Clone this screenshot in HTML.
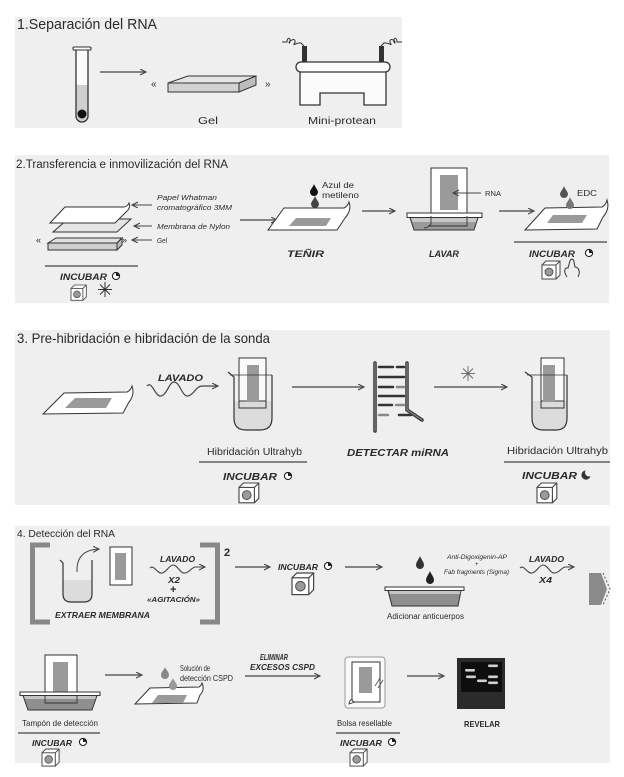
<!DOCTYPE html>
<html><head><meta charset="utf-8"><style>
html,body{margin:0;padding:0;background:#fff;}
svg{display:block;}
text{font-family:"Liberation Sans",sans-serif;fill:#2a2a2a;}
.lab{font-style:italic;font-weight:bold;}
.it{font-style:italic;}
</style></head><body>
<svg width="624" height="777" viewBox="0 0 624 777" xmlns="http://www.w3.org/2000/svg">
<defs>
<marker id="ah" markerWidth="8" markerHeight="8" refX="6" refY="3" orient="auto" markerUnits="userSpaceOnUse"><path d="M0,0 L6,3 L0,6" fill="none" stroke="#444" stroke-width="1.1"/></marker>
<g id="clock"><circle r="3.6" fill="#fff" stroke="#222" stroke-width="1.1"/><path d="M0,0 L0,-3.6 A3.6,3.6 0 0 1 3.6,0 Z" fill="#222"/></g>
<g id="box"><path d="M0,4 L4,0 L18,0 L18,14 L14,18" fill="#fff" stroke="#444" stroke-width="1"/><line x1="14" y1="4" x2="18" y2="0" stroke="#444" stroke-width="1"/><rect x="0" y="4" width="14" height="14" fill="#fff" stroke="#444" stroke-width="1"/><circle cx="7" cy="11" r="4" fill="#9a9a9a" stroke="#444" stroke-width="0.8"/></g>
</defs>

<!-- panels -->
<rect x="15" y="17" width="387" height="111" fill="#efefef"/>
<rect x="15" y="155" width="594" height="148" fill="#efefef"/>
<rect x="15" y="330" width="595" height="175" fill="#efefef"/>
<rect x="15" y="526" width="595" height="237" fill="#efefef"/>

<!-- SECTION 1 -->
<text x="17" y="29" font-size="15" textLength="140" lengthAdjust="spacingAndGlyphs">1.Separación del RNA</text>
<path d="M76,50 L76,85 L88,85 L88,50 Z" fill="#fafafa"/>
<path d="M76,85 L76,116 A6,6 0 0 0 88,116 L88,85 Z" fill="#cfcfcf"/>
<path d="M76,50 L76,116 A6,6 0 0 0 88,116 L88,50" fill="none" stroke="#333" stroke-width="1.3"/>
<rect x="73" y="47" width="18" height="3" rx="1" fill="#fff" stroke="#333" stroke-width="1.1"/>
<circle cx="82" cy="114" r="4.5" fill="#111"/>
<line x1="100" y1="72" x2="146" y2="72" stroke="#444" stroke-width="1.2" marker-end="url(#ah)"/>
<text x="151" y="87" font-size="10">«</text>
<path d="M168,83 L188,76 L256,76 L239,83 Z" fill="#e4e4e4" stroke="#333" stroke-width="1"/>
<rect x="168" y="83" width="71" height="9" fill="#d2d2d2" stroke="#333" stroke-width="1"/>
<path d="M239,83 L256,76 L256,85 L239,92 Z" fill="#bdbdbd" stroke="#333" stroke-width="1"/>
<text x="265" y="87" font-size="10">»</text>
<path d="M282,42 L287,42 C287,37 291,37 290,42 C289,45 288,41 292,40 C295,38 296,42 294,44 C293,46 297,42 301,43 L304,46" fill="none" stroke="#333" stroke-width="1"/>
<path d="M381,46 L384,43 C388,42 392,46 391,44 C389,42 390,38 393,40 C396,41 395,45 394,42 C393,37 397,37 397,42 L402,42" fill="none" stroke="#333" stroke-width="1"/>
<rect x="302" y="46" width="5" height="17" fill="#333"/>
<rect x="379" y="46" width="5" height="17" fill="#333"/>
<path d="M300,72 L300,105 L320,105 L320,93 L364,93 L364,105 L386,105 L386,72" fill="#fbfbfb" stroke="#333" stroke-width="1.3"/>
<rect x="296" y="62" width="94" height="10" rx="5" fill="#fbfbfb" stroke="#333" stroke-width="1.3"/>
<text x="198" y="124" font-size="10.5" textLength="20" lengthAdjust="spacingAndGlyphs">Gel</text>
<text x="308" y="124" font-size="10.5" textLength="68" lengthAdjust="spacingAndGlyphs">Mini-protean</text>

<!-- SECTION 2 -->
<text x="16" y="168" font-size="11.5" textLength="212" lengthAdjust="spacingAndGlyphs">2.Transferencia e inmovilización del RNA</text>
<path d="M53,232 L68,219 L131,219 L117,232 Z" fill="#e6e6e6" stroke="#333" stroke-width="1"/>
<path d="M50,223 L65,207 L124,207 Q128,206 129,203 Q131,208 126,212 L115,223 Z" fill="#fff" stroke="#333" stroke-width="1"/>
<text x="36" y="243" font-size="9">«</text>
<path d="M48,243 L56,238 L122,238 L117,243 Z" fill="#e0e0e0" stroke="#333" stroke-width="1"/>
<rect x="48" y="243" width="69" height="7" fill="#cfcfcf" stroke="#333" stroke-width="1"/>
<path d="M117,243 L122,238 L122,245 L117,250 Z" fill="#bbb" stroke="#333" stroke-width="1"/>
<text x="122" y="243" font-size="9">»</text>
<line x1="152" y1="205" x2="132" y2="205" stroke="#444" stroke-width="1" marker-end="url(#ah)"/>
<line x1="152" y1="226" x2="134" y2="226" stroke="#444" stroke-width="1" marker-end="url(#ah)"/>
<line x1="152" y1="240" x2="132" y2="240" stroke="#444" stroke-width="1" marker-end="url(#ah)"/>
<text class="it" x="157" y="200" font-size="7.5" textLength="60" lengthAdjust="spacingAndGlyphs">Papel Whatman</text>
<text class="it" x="157" y="210" font-size="7.5" textLength="75" lengthAdjust="spacingAndGlyphs">cromatográfico 3MM</text>
<text class="it" x="157" y="229" font-size="7.5" textLength="73" lengthAdjust="spacingAndGlyphs">Membrana de Nylon</text>
<text class="it" x="157" y="243" font-size="7.5" textLength="10" lengthAdjust="spacingAndGlyphs">Gel</text>
<line x1="45" y1="266" x2="138" y2="266" stroke="#444" stroke-width="1.3"/>
<text class="lab" x="60" y="280" font-size="9" textLength="47" lengthAdjust="spacingAndGlyphs">INCUBAR</text>
<use href="#clock" x="116" y="276"/>
<use href="#box" transform="translate(71,285) scale(0.85)"/>
<g stroke="#333" stroke-width="1" fill="none">
<line x1="105" y1="282" x2="105" y2="297"/><line x1="98" y1="289.5" x2="112" y2="289.5"/>
<line x1="100" y1="284.5" x2="110" y2="294.5"/><line x1="110" y1="284.5" x2="100" y2="294.5"/>
</g>
<line x1="240" y1="220" x2="277" y2="220" stroke="#444" stroke-width="1.2" marker-end="url(#ah)"/>
<path d="M268,230 L284,208 L344,208 Q348,206 349,202 Q352,210 345,218 L337,230 Z" fill="#fff" stroke="#333" stroke-width="1"/>
<path d="M289,226 L296,218 L331,218 L326,226 Z" fill="#9a9a9a"/>
<path d="M314,184 C315,187 318,190 318,192 A4,4 0 0 1 310,192 C310,190 313,187 314,184 Z" fill="#111"/>
<path d="M315,196 C316,199 319,202 319,204 A4,4 0 0 1 311,204 C311,202 314,199 315,196 Z" fill="#444"/>
<text x="322" y="188" font-size="8.5" textLength="32" lengthAdjust="spacingAndGlyphs">Azul de</text>
<text x="322" y="198" font-size="8.5" textLength="37" lengthAdjust="spacingAndGlyphs">metileno</text>
<text class="lab" x="287" y="257" font-size="9" textLength="37" lengthAdjust="spacingAndGlyphs">TEÑIR</text>
<line x1="362" y1="211" x2="395" y2="211" stroke="#444" stroke-width="1.2" marker-end="url(#ah)"/>
<rect x="431" y="168" width="36" height="48" fill="#fff" stroke="#333" stroke-width="1"/>
<rect x="440" y="175" width="18" height="35" fill="#9a9a9a"/>
<rect x="407" y="213" width="75" height="4.5" fill="#fff" stroke="#333" stroke-width="1"/>
<path d="M410,217.5 L414,230 L474,230 L478,217.5 Z" fill="#9a9a9a" stroke="#333" stroke-width="1"/>
<path d="M411,218 L412.5,222 L476,222 L477,218 Z" fill="#c8c8c8"/>
<path d="M431,216 L431,224 Q428,228 424,228 M467,216 L467,226 L428,226" fill="none" stroke="#333" stroke-width="0.9"/>
<line x1="481" y1="193" x2="453" y2="193" stroke="#444" stroke-width="1" marker-end="url(#ah)"/>
<text x="485" y="196" font-size="7.5" textLength="16" lengthAdjust="spacingAndGlyphs">RNA</text>
<text class="lab" x="429" y="257" font-size="9" textLength="30" lengthAdjust="spacingAndGlyphs">LAVAR</text>
<line x1="499" y1="211" x2="534" y2="211" stroke="#444" stroke-width="1.2" marker-end="url(#ah)"/>
<path d="M525,230 L545,208 L602,207 Q606,205 607,200 Q610,209 603,217 L597,229 Z" fill="#fff" stroke="#333" stroke-width="1"/>
<path d="M547,223 L553,215 L587,215 L582,223 Z" fill="#9a9a9a"/>
<path d="M564,186 C565,189 568,192 568,194 A4,4 0 0 1 560,194 C560,192 563,189 564,186 Z" fill="#555"/>
<path d="M570,197 C571,200 574,203 574,205 A4,4 0 0 1 566,205 C566,203 569,200 570,197 Z" fill="#777"/>
<text x="577" y="196" font-size="8.5" textLength="20" lengthAdjust="spacingAndGlyphs">EDC</text>
<line x1="514" y1="242" x2="607" y2="242" stroke="#444" stroke-width="1.3"/>
<text class="lab" x="529" y="257" font-size="9" textLength="46" lengthAdjust="spacingAndGlyphs">INCUBAR</text>
<use href="#clock" x="589" y="253"/>
<use href="#box" transform="translate(542,261) scale(1)"/>
<path d="M567,277 C563,271 565,267 568,268 L570,261 C571,258 574,259 574,262 L575,267 C578,267 581,271 578,277" fill="none" stroke="#333" stroke-width="1"/>

<!-- SECTION 3 -->
<text x="17" y="343" font-size="14" textLength="253" lengthAdjust="spacingAndGlyphs">3. Pre-hibridación e hibridación de la sonda</text>
<path d="M43,414 L64,393 L127,392 Q131,390 132,386 Q135,395 129,402 L123,413 Z" fill="#fff" stroke="#333" stroke-width="1"/>
<path d="M65,408 L75,398 L112,398 L106,408 Z" fill="#9a9a9a"/>
<text class="lab" x="158" y="381" font-size="9" textLength="45" lengthAdjust="spacingAndGlyphs">LAVADO</text>
<path d="M147,386 C152,380 155,397 161,396 C167,395 169,382 174,382 C180,382 182,397 188,396 C194,395 196,386 202,386 L218,386" fill="none" stroke="#444" stroke-width="1.2" marker-end="url(#ah)"/>
<path d="M234,401 L234,418 Q234,430 246,430 L260,430 Q272,430 272,418 L272,401 Z" fill="#dcdcdc"/>
<rect x="239" y="358" width="27" height="43" fill="#fafafa" stroke="#333" stroke-width="1"/>
<path d="M239,401 L239,408 L266,408 L266,401" fill="none" stroke="#333" stroke-width="1"/>
<rect x="247" y="365" width="12" height="37" fill="#9a9a9a"/>
<path d="M228,372 L234,377 L234,418 Q234,430 246,430 L260,430 Q272,430 272,418 L272,375" fill="none" stroke="#333" stroke-width="1.2"/>
<line x1="230" y1="375" x2="272" y2="375" stroke="#333" stroke-width="0.8"/>
<text x="207" y="455" font-size="10" textLength="95" lengthAdjust="spacingAndGlyphs">Hibridación Ultrahyb</text>
<line x1="199" y1="462" x2="307" y2="462" stroke="#444" stroke-width="1.3"/>
<text class="lab" x="223" y="480" font-size="10" textLength="54" lengthAdjust="spacingAndGlyphs">INCUBAR</text>
<use href="#clock" x="288" y="476"/>
<use href="#box" transform="translate(239,483) scale(1.1)"/>
<line x1="292" y1="387" x2="364" y2="387" stroke="#444" stroke-width="1.2" marker-end="url(#ah)"/>
<g stroke-linecap="round">
<line x1="375" y1="363" x2="375" y2="431" stroke="#333" stroke-width="3.5"/>
<path d="M407,363 L407,410 L422,420" fill="none" stroke="#333" stroke-width="3.5"/>
<line x1="375" y1="363" x2="375" y2="431" stroke="#888" stroke-width="1.2"/>
<path d="M407,363 L407,410 L422,420" fill="none" stroke="#888" stroke-width="1.2"/>
<g stroke-width="2.5">
<line x1="379" y1="367" x2="393" y2="367" stroke="#333"/><line x1="397" y1="367" x2="404" y2="367" stroke="#333"/>
<line x1="379" y1="377" x2="404" y2="377" stroke="#333"/>
<line x1="379" y1="387" x2="393" y2="387" stroke="#333"/><line x1="397" y1="387" x2="404" y2="387" stroke="#888"/>
<line x1="379" y1="396" x2="404" y2="396" stroke="#333"/>
<line x1="379" y1="405" x2="392" y2="405" stroke="#333"/><line x1="396" y1="405" x2="404" y2="405" stroke="#888"/>
<line x1="379" y1="415" x2="388" y2="415" stroke="#888"/><line x1="399" y1="415" x2="411" y2="415" stroke="#333"/>
</g></g>
<text class="lab" x="347" y="456" font-size="10" textLength="102" lengthAdjust="spacingAndGlyphs">DETECTAR miRNA</text>
<line x1="434" y1="387" x2="507" y2="387" stroke="#444" stroke-width="1.2" marker-end="url(#ah)"/>
<g stroke="#666" stroke-width="0.9">
<line x1="468" y1="366" x2="468" y2="381"/><line x1="461" y1="373.5" x2="475" y2="373.5"/>
<line x1="463" y1="368.5" x2="473" y2="378.5"/><line x1="473" y1="368.5" x2="463" y2="378.5"/>
</g>
<path d="M532,401 L532,418 Q532,430 543,430 L556,430 Q567,430 567,418 L567,401 Z" fill="#dcdcdc"/>
<rect x="541" y="358" width="23" height="43" fill="#fafafa" stroke="#333" stroke-width="1"/>
<path d="M541,401 L541,408 L564,408 L564,401" fill="none" stroke="#333" stroke-width="1"/>
<rect x="543" y="365" width="12" height="37" fill="#9a9a9a"/>
<path d="M525,372 L532,377 L532,418 Q532,430 543,430 L556,430 Q567,430 567,418 L567,375" fill="none" stroke="#333" stroke-width="1.2"/>
<line x1="527" y1="375" x2="567" y2="375" stroke="#333" stroke-width="0.8"/>
<text x="507" y="454" font-size="10" textLength="101" lengthAdjust="spacingAndGlyphs">Hibridación Ultrahyb</text>
<line x1="504" y1="462" x2="610" y2="462" stroke="#444" stroke-width="1.3"/>
<text class="lab" x="522" y="479" font-size="10" textLength="55" lengthAdjust="spacingAndGlyphs">INCUBAR</text>
<circle cx="586" cy="475" r="4.6" fill="#333"/>
<circle cx="589" cy="472.5" r="4" fill="#efefef"/>
<use href="#box" transform="translate(537,483) scale(1.1)"/>

<!-- SECTION 4 -->
<text x="17" y="537" font-size="10.5" textLength="98" lengthAdjust="spacingAndGlyphs">4. Detección del RNA</text>
<path d="M50,545 L32.5,545 L32.5,622 L50,622" fill="none" stroke="#888" stroke-width="5"/>
<path d="M200,545 L217.5,545 L217.5,622 L200,622" fill="none" stroke="#888" stroke-width="5"/>
<text x="224" y="556" font-size="11" font-weight="bold">2</text>
<path d="M63,580 L63,594 Q63,602 71,602 L84,602 Q92,602 92,594 L92,580 Z" fill="#dcdcdc"/>
<path d="M60,560 L63,563 L63,594 Q63,602 71,602 L84,602 Q92,602 92,594 L92,560" fill="none" stroke="#333" stroke-width="1.2"/>
<path d="M77,572 Q76,550 99,549" fill="none" stroke="#444" stroke-width="1" marker-end="url(#ah)"/>
<rect x="110" y="547" width="22" height="38" fill="#fff" stroke="#333" stroke-width="1"/>
<rect x="115" y="553" width="11" height="27" fill="#9a9a9a"/>
<text class="lab" x="55" y="618" font-size="8.5" textLength="95" lengthAdjust="spacingAndGlyphs">EXTRAER MEMBRANA</text>
<text class="lab" x="160" y="562" font-size="8" textLength="35" lengthAdjust="spacingAndGlyphs">LAVADO</text>
<path d="M150,568 C154,564 157,574 162,573 C167,572 169,565 173,565 C178,565 180,574 185,573 C190,572 191,568 195,567 L205,567" fill="none" stroke="#444" stroke-width="1.1" marker-end="url(#ah)"/>
<text class="lab" x="168" y="583" font-size="8" textLength="12" lengthAdjust="spacingAndGlyphs">X2</text>
<text x="170" y="593" font-size="11" font-weight="bold">+</text>
<text class="lab" x="147" y="602" font-size="7.5" textLength="53" lengthAdjust="spacingAndGlyphs">«AGITACIÓN»</text>
<line x1="235" y1="567" x2="270" y2="567" stroke="#444" stroke-width="1.2" marker-end="url(#ah)"/>
<text class="lab" x="278" y="570" font-size="8.5" textLength="40" lengthAdjust="spacingAndGlyphs">INCUBAR</text>
<use href="#clock" x="328" y="566"/>
<use href="#box" transform="translate(292,573) scale(1.2)"/>
<line x1="345" y1="567" x2="382" y2="567" stroke="#444" stroke-width="1.2" marker-end="url(#ah)"/>
<path d="M420,556 C421,559 424,562 424,565 A4,4 0 0 1 416,565 C416,562 419,559 420,556 Z" fill="#333"/>
<path d="M430,571 C431,574 434,577 434,580 A4,4 0 0 1 426,580 C426,577 429,574 430,571 Z" fill="#222"/>
<rect x="385" y="587" width="79" height="3.5" fill="#fff" stroke="#333" stroke-width="1"/>
<path d="M388,590.5 L392,606 L458,606 L461,590.5 Z" fill="#8f8f8f" stroke="#333" stroke-width="1"/>
<path d="M389,591 L390,594 L460,594 L460.5,591 Z" fill="#c4c4c4"/>
<text class="it" x="447" y="559" font-size="6" textLength="60" lengthAdjust="spacingAndGlyphs">Anti-Digoxigenin-AP</text>
<text x="475" y="566" font-size="6">+</text>
<text class="it" x="444" y="574" font-size="6" textLength="65" lengthAdjust="spacingAndGlyphs">Fab fragments (Sigma)</text>
<text x="387" y="619" font-size="8" textLength="77" lengthAdjust="spacingAndGlyphs">Adicionar anticuerpos</text>
<text class="lab" x="529" y="562" font-size="8" textLength="35" lengthAdjust="spacingAndGlyphs">LAVADO</text>
<path d="M520,568 C524,564 527,574 532,573 C537,572 539,565 543,565 C548,565 550,574 555,573 C560,572 561,568 565,567 L574,567" fill="none" stroke="#444" stroke-width="1.1" marker-end="url(#ah)"/>
<text class="lab" x="539" y="583" font-size="8" textLength="13" lengthAdjust="spacingAndGlyphs">X4</text>
<path d="M589,573 L601,573 L607,589 L601,605 L589,605 Z" fill="#8a8a8a"/>
<path d="M603,573 L610,589 L603,605" fill="none" stroke="#555" stroke-width="1" stroke-dasharray="2,2"/>

<rect x="45" y="655" width="32" height="38" fill="#fff" stroke="#333" stroke-width="1"/>
<rect x="53" y="662" width="15" height="35" fill="#9a9a9a"/>
<rect x="20" y="692" width="80" height="3.5" fill="#fff" stroke="#333" stroke-width="1"/>
<path d="M23,695.5 L28,710 L92,710 L97,695.5 Z" fill="#8f8f8f" stroke="#333" stroke-width="1"/>
<path d="M24,696 L25,699 L95.5,699 L96,696 Z" fill="#c4c4c4"/>
<path d="M45,695 L45,703 L77,703 L77,695" fill="none" stroke="#333" stroke-width="0.9"/>
<text x="22" y="726" font-size="8.5" textLength="76" lengthAdjust="spacingAndGlyphs">Tampón de detección</text>
<line x1="18" y1="733" x2="100" y2="733" stroke="#444" stroke-width="1.3"/>
<text class="lab" x="32" y="746" font-size="8.5" textLength="40" lengthAdjust="spacingAndGlyphs">INCUBAR</text>
<use href="#clock" x="83" y="742"/>
<use href="#box" transform="translate(42,749) scale(0.95)"/>
<line x1="105" y1="675" x2="142" y2="675" stroke="#444" stroke-width="1.2" marker-end="url(#ah)"/>
<path d="M135,704 L150,688 L199,687 Q201,686 202,683 Q205,690 200,695 L197,703 Z" fill="#fff" stroke="#333" stroke-width="1"/>
<path d="M152,703 L158,695 L187,695 L183,703 Z" fill="#9a9a9a"/>
<path d="M165,667 C166,670 169,672 169,675 A4,4 0 0 1 161,675 C161,672 164,670 165,667 Z" fill="#888"/>
<path d="M173,678 C174,681 177,683 177,686 A4,4 0 0 1 169,686 C169,683 172,681 173,678 Z" fill="#999"/>
<text x="180" y="671" font-size="8" textLength="30" lengthAdjust="spacingAndGlyphs">Solución de</text>
<text x="180" y="681" font-size="8" textLength="53" lengthAdjust="spacingAndGlyphs">detección CSPD</text>
<text class="lab" x="260" y="660" font-size="8.5" textLength="28" lengthAdjust="spacingAndGlyphs">ELIMINAR</text>
<text class="lab" x="250" y="670" font-size="8.5" textLength="65" lengthAdjust="spacingAndGlyphs">EXCESOS CSPD</text>
<line x1="245" y1="676" x2="320" y2="676" stroke="#444" stroke-width="1.2" marker-end="url(#ah)"/>
<rect x="345" y="657" width="40" height="51" rx="3" fill="#fafafa" stroke="#999" stroke-width="1"/>
<path d="M352,662 L380,662 L380,702 L355,702 Q352,702 352,699 Z" fill="#fff" stroke="#333" stroke-width="1"/>
<path d="M352,699 Q349,701 349,704 L355,702" fill="none" stroke="#333" stroke-width="0.9"/>
<rect x="359" y="667" width="13" height="26" fill="#9a9a9a"/>
<line x1="375" y1="686" x2="380" y2="678" stroke="#555" stroke-width="0.9"/>
<line x1="378" y1="688" x2="383" y2="680" stroke="#555" stroke-width="0.9"/>
<text x="337" y="726" font-size="8" textLength="55" lengthAdjust="spacingAndGlyphs">Bolsa resellable</text>
<line x1="336" y1="733" x2="400" y2="733" stroke="#444" stroke-width="1.3"/>
<text class="lab" x="340" y="746" font-size="8.5" textLength="42" lengthAdjust="spacingAndGlyphs">INCUBAR</text>
<use href="#clock" x="392" y="742"/>
<use href="#box" transform="translate(350,749) scale(0.95)"/>
<line x1="407" y1="676" x2="444" y2="676" stroke="#444" stroke-width="1.2" marker-end="url(#ah)"/>
<rect x="457" y="658" width="48" height="51" fill="#2b2b2b"/>
<rect x="461" y="662" width="41" height="30" fill="#0e0e0e"/>
<g fill="#cfcfcf">
<rect x="465" y="669" width="10" height="2.6" rx="1.2"/>
<rect x="488" y="664.5" width="10" height="2.6" rx="1.2"/>
<rect x="466" y="675.5" width="10" height="2.6" rx="1.2"/>
<rect x="477" y="679.5" width="10" height="2.6" rx="1.2"/>
<rect x="488" y="675.5" width="10" height="2.6" rx="1.2"/>
<rect x="488" y="681.5" width="10" height="2.6" rx="1.2"/>
</g>
<text x="464" y="727" font-size="8.5" font-weight="bold" textLength="36" lengthAdjust="spacingAndGlyphs">REVELAR</text>
</svg>
</body></html>
